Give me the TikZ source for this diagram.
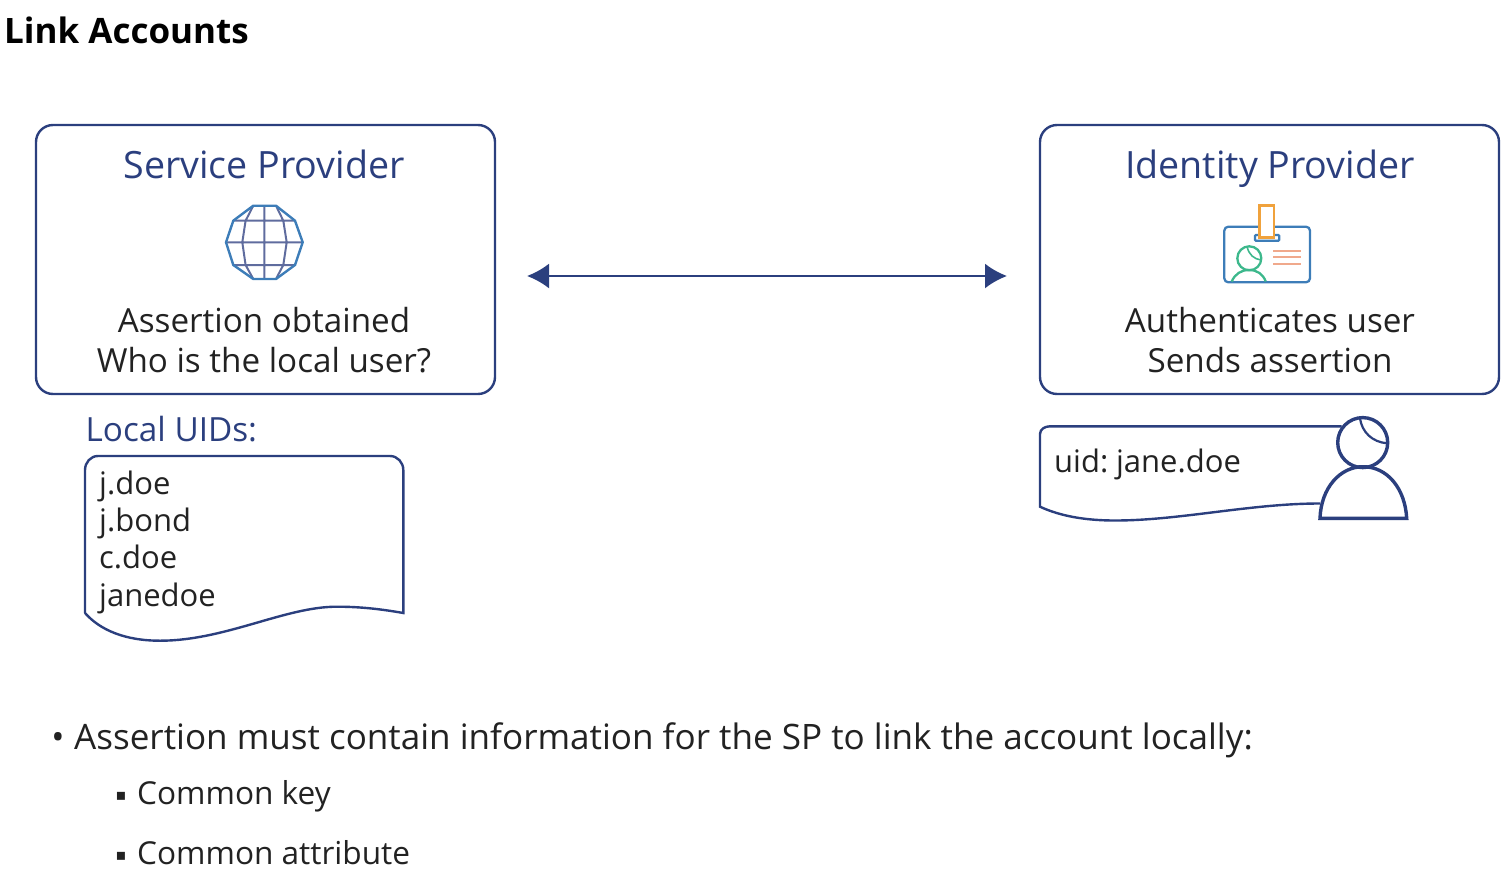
\documentclass[tikz,border=0pt]{standalone}
\usepackage{fontspec}
\usetikzlibrary{arrows.meta}
\setmainfont{Open Sans}
\newfontfamily\symfont{DejaVu Sans}
\definecolor{navy}{HTML}{2B3F7E}
\definecolor{inkblack}{HTML}{222222}
\definecolor{globeblue}{HTML}{3D7DB8}
\definecolor{globeline}{HTML}{5F6C9E}
\definecolor{cardorange}{HTML}{F0A23C}
\definecolor{cardgreen}{HTML}{3DB88C}
\definecolor{cardline}{HTML}{F0A98C}
\tikzset{
  panel/.style={draw=navy, line width=2.4pt, rounded corners=17pt, minimum width=459pt, minimum height=269pt, inner sep=0pt},
  heading/.style={text=navy, font=\fontsize{37.6}{44}\selectfont, anchor=base, inner sep=0pt},
  body/.style={text=inkblack, font=\fontsize{33.2}{40}\selectfont, align=center, inner sep=0pt},
  listing/.style={text=inkblack, font=\fontsize{31}{37.3}\selectfont, align=left, anchor=north west, inner sep=0pt},
  bullet/.style={text=inkblack, font=\fontsize{31.6}{38}\selectfont, anchor=base west, inner sep=0pt},
  sheet/.style={draw=navy, line width=2.4pt},
}
\begin{document}
\begin{tikzpicture}[>=latex, x=1pt, y=-1pt]
    \useasboundingbox (0, 0) rectangle (1512, 880);
    %\draw [help lines, thin] (0, 0) grid (1512, 880);
    \node [anchor=base west, inner sep=0pt, text=black, font=\fontsize{35}{42}\selectfont\bfseries] (title) at (4, 44) {Link Accounts};
    % the two providers
    \node [panel] (sp) at (265.5, 259.5) {};
    \node [panel] (idp) at (1269.5, 259.5) {};
    \node [heading] (sptitle) at (264, 178) {Service Provider};
    \node [heading] (idptitle) at (1270, 178) {Identity Provider};
    \node [body] (sptext) at (264, 340) {Assertion obtained\\Who is the local user?};
    \node [body] (idptext) at (1270, 340) {Authenticates user\\Sends assertion};
    \coordinate (linkleft) at (527, 276);
    \coordinate (linkright) at (1007, 276);
    \draw [<->, navy, line width=2.2pt, >={Latex[length=22pt, width=25pt]}] (linkleft) -- (linkright);
    % globe
    \draw [globeline, line width=2pt] (253.3, 205.7) -- (245.6, 220.7) -- (242.3, 242.3) -- (245.6, 265) -- (253.3, 279)
        (276, 205.7) -- (283.3, 220.7) -- (286.7, 242.3) -- (283.3, 265) -- (276, 279)
        (264.3, 205.7) -- (264.3, 279)
        (233.3, 220.7) -- (295, 220.7) (226, 242.3) -- (302.7, 242.3) (233.3, 265) -- (295, 265);
    \draw [globeblue, line width=2.4pt] (253.3, 205.7) -- (276, 205.7) -- (295, 220.7) -- (302.7, 242.3) -- (295, 265) -- (276, 279) -- (253.3, 279) -- (233.3, 265) -- (226, 242.3) -- (233.3, 220.7) -- cycle;
    % badge
    \draw [globeblue, line width=2.3pt, rounded corners=4pt] (1224.3, 226.7) rectangle (1310, 282.3);
    \draw [globeblue, line width=2.3pt, rounded corners=1pt, fill=white] (1255, 235) rectangle (1279.3, 240.7);
    \draw [cardorange, line width=2.5pt, fill=white] (1259.3, 205.7) rectangle (1274, 237.7);
    \draw [cardgreen, line width=2.3pt] (1249.3, 258.3) circle (12pt);
    \draw [cardgreen, line width=1.6pt] (1247, 246.5) .. controls (1249, 255) and (1254, 259) .. (1261, 260);
    \draw [cardgreen, line width=2.3pt] (1231.7, 281.5) .. controls (1235, 274) and (1241, 270) .. (1249, 270) .. controls (1257, 270) and (1263, 274) .. (1265.7, 281.5);
    \draw [cardline, line width=2.2pt] (1273.3, 250.7) -- (1301, 250.7) (1273.3, 257.3) -- (1301, 257.3) (1273.3, 264.3) -- (1301, 264.3);
    % local uids
    \node [heading, anchor=base west, font=\fontsize{33.3}{40}\selectfont] (uidtitle) at (85.5, 441) {Local UIDs:};
    \draw [sheet] (85, 613) -- (85, 470) to [out=90, in=180] (98, 456) -- (390, 456) to [out=0, in=90] (403.3, 470) -- (403.3, 613)
        .. controls (375, 608) and (355, 606.7) .. (336.7, 606.7) .. controls (285, 606.7) and (225, 640.7) .. (160, 640.7) .. controls (125, 640.7) and (100, 630) .. (85, 613);
    \node [listing] (uidlist) at (99, 470.5) {j.doe\\j.bond\\c.doe\\janedoe};
    % user
    \draw [sheet] (1341.7, 426.3) -- (1050, 426.3) to [out=180, in=90] (1040, 434) -- (1040, 506.7)
        .. controls (1060, 516) and (1085, 520.5) .. (1115, 520.5) .. controls (1180, 520.5) and (1250, 503.5) .. (1320, 503.5);
    \node [listing, anchor=base west] (uidtext) at (1054, 472) {uid:\hspace{-3pt} jane.doe};
    \draw [navy, line width=3.4pt] (1362.7, 442.6) circle (25pt);
    \draw [navy, line width=2.2pt] (1360, 418.5) .. controls (1362, 432) and (1372, 442) .. (1387, 443.3);
    \draw [navy, line width=3.4pt] (1320, 518.3) .. controls (1321, 488) and (1340, 466.7) .. (1363, 466.7) .. controls (1387, 466.7) and (1405, 488) .. (1406.7, 518.3) -- cycle;
    % bullets
    \node [bullet, font=\fontsize{35.05}{42}\selectfont] (pointa) at (74, 749) {Assertion must contain information for the SP to link the account locally:};
    \node [bullet, anchor=base, font=\fontsize{35}{42}\selectfont] (dota) at (58, 749) {•};
    \node [bullet] (pointb) at (137, 804) {Common key};
    \node [bullet] (pointc) at (137, 864) {Common attribute};
    \node [bullet, anchor=base, font=\symfont\fontsize{16}{20}\selectfont] (dotb) at (121, 800) {▪};
    \node [bullet, anchor=base, font=\symfont\fontsize{16}{20}\selectfont] (dotc) at (121, 860) {▪};
\end{tikzpicture}
\end{document}
